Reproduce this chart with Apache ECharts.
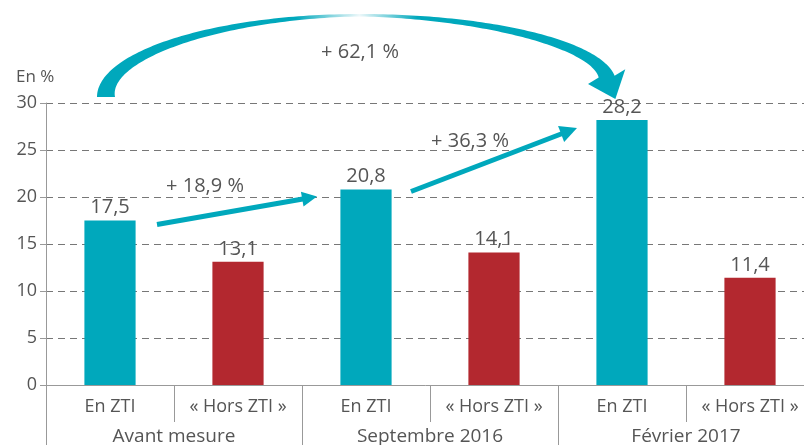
<!DOCTYPE html>
<html>
<head>
<meta charset="utf-8">
<script src="https://cdn.jsdelivr.net/npm/echarts@6/dist/echarts.min.js"></script>
<style>
  html, body { margin: 0; padding: 0; background: #fff; }
  #chart { width: 804px; height: 445px; }
</style>
</head>
<body>
<div id="chart"></div>
<script>
const categories = ['En ZTI', '« Hors ZTI »', 'En ZTI', '« Hors ZTI »', 'En ZTI', '« Hors ZTI »'];
const groups = ['Avant mesure', 'Septembre 2016', 'Février 2017'];
const values = [17.5, 13.1, 20.8, 14.1, 28.2, 11.4];
const yTicks = { min: 0, max: 30, interval: 5 };
const changes = ['+ 18,9 %', '+ 36,3 %', '+ 62,1 %'];

const TEAL = '#00a8bc';
const RED = '#b3282f';
const TEXT = '#555';
const FONT = '"Open Sans", "Noto Sans", sans-serif';

const chart = echarts.init(document.getElementById('chart'));

const fmt = (v) => v.toFixed(1).replace('.', ',');

chart.setOption({
  animation: false,
  backgroundColor: '#fff',
  textStyle: { fontFamily: FONT },
  // plot runs a little past the right edge of the picture
  grid: { left: 46, width: 768, top: 103, bottom: 60, containLabel: false, outerBoundsMode: 'none' },
  xAxis: [
    {
      type: 'category',
      data: categories,
      position: 'bottom',
      axisLine: { lineStyle: { color: '#999', width: 1 } },
      axisTick: { show: true, interval: 0, length: 37, lineStyle: { color: '#999' } },
      axisLabel: { interval: 0, margin: 13, color: TEXT, fontSize: 18, fontFamily: FONT }
    },
    {
      type: 'category',
      data: groups,
      position: 'bottom',
      offset: 0,
      axisLine: { show: false },
      axisTick: { show: true, interval: 0, length: 62, lineStyle: { color: '#999' } },
      axisLabel: { interval: 0, margin: 42, color: TEXT, fontSize: 19, fontFamily: FONT }
    }
  ],
  yAxis: {
    type: 'value',
    min: yTicks.min,
    max: yTicks.max,
    interval: yTicks.interval,
    axisLine: { show: true, lineStyle: { color: '#999' } },
    axisTick: { show: true, length: 6, lineStyle: { color: '#999' } },
    axisLabel: { color: TEXT, fontSize: 18, margin: 9, fontFamily: FONT },
    splitLine: { lineStyle: { color: '#777', type: [7, 5] } }
  },
  series: [
    {
      type: 'bar',
      xAxisIndex: 0,
      barWidth: '40%',
      data: values,
      itemStyle: { color: (p) => (p.dataIndex % 2 ? RED : TEAL) },
      label: {
        show: true,
        position: 'top',
        distance: 3,
        color: TEXT,
        fontSize: 20,
        fontFamily: FONT,
        formatter: (p) => fmt(p.value)
      }
    }
  ]
});

// annotation arrows, placed relative to the bars
const px = (i) => chart.convertToPixel({ xAxisIndex: 0, yAxisIndex: 0 }, [i, values[i]]);
const yTop = chart.convertToPixel({ yAxisIndex: 0 }, yTicks.max);

function straightArrow(x1, y1, x2, y2, lw, headLen, headW) {
  const dx = x2 - x1, dy = y2 - y1;
  const len = Math.hypot(dx, dy);
  const ux = dx / len, uy = dy / len;
  const bx = x2 - ux * headLen, by = y2 - uy * headLen;
  return [
    { type: 'line', shape: { x1, y1, x2: bx + ux * 2, y2: by + uy * 2 }, style: { stroke: TEAL, lineWidth: lw } },
    {
      type: 'polygon',
      shape: { points: [[x2, y2], [bx - uy * headW / 2, by + ux * headW / 2], [bx + uy * headW / 2, by - ux * headW / 2]] },
      style: { fill: TEAL }
    }
  ];
}

function bigArrow(x0, x4) {
  const cx = (x0 + x4) / 2 - 6;
  const top = 14;
  const cyL = yTop - 6, rxL = cx - (x0 - 13), ryL = cyL - top;
  const cyR = 83, rxR = 256, ryR = cyR - top;
  const outer = [], inner = [];
  const steps = 80;
  for (let k = 0; k <= steps; k++) {
    const th = Math.PI - (Math.PI / 2) * (k / steps);
    const w = 2.5 + 15.5 * Math.pow(1 - k / steps, 1.3);
    outer.push([cx + rxL * Math.cos(th), cyL - ryL * Math.sin(th)]);
    inner.push([cx + (rxL - w) * Math.cos(th), cyL - (ryL - w) * Math.sin(th)]);
  }
  const thEnd = 6 * Math.PI / 180;
  for (let k = 1; k <= steps; k++) {
    const th = Math.PI / 2 - (Math.PI / 2 - thEnd) * (k / steps);
    const w = 2.5 + 13.5 * Math.pow(k / steps, 1.2);
    outer.push([cx + rxR * Math.cos(th), cyR - ryR * Math.sin(th)]);
    inner.push([cx + (rxR - w) * Math.cos(th), cyR - (ryR - w) * Math.sin(th)]);
  }
  const o = outer[outer.length - 1], n = inner[inner.length - 1];
  const mx = (o[0] + n[0]) / 2, my = (o[1] + n[1]) / 2;
  let dx = rxR * Math.sin(thEnd), dy = ryR * Math.cos(thEnd);
  const l = Math.hypot(dx, dy); dx /= l; dy /= l;
  const head = [
    [mx + dy * 20, my - dx * 20],
    [mx + dx * 24, my + dy * 24],
    [mx - dy * 20, my + dx * 20]
  ];
  const pts = outer.concat(head, inner.reverse());
  const minX = x0 - 13, maxX = mx + 20;
  const mid = (cx - minX) / (maxX - minX);
  return {
    type: 'polygon',
    shape: { points: pts },
    style: {
      fill: new echarts.graphic.LinearGradient(0, 0, 1, 0, [
        { offset: 0, color: TEAL },
        { offset: mid - 0.12, color: TEAL },
        { offset: mid, color: '#eef8fa' },
        { offset: mid + 0.11, color: TEAL },
        { offset: 1, color: TEAL }
      ])
    }
  };
}

const b0 = px(0), b2 = px(2), b4 = px(4);
const label = (text, x, y) => ({
  type: 'text', x, y,
  style: { text, fill: TEXT, font: '20px ' + FONT, align: 'center', verticalAlign: 'middle' }
});

chart.setOption({
  graphic: [
    bigArrow(b0[0], b4[0]),
    ...straightArrow(b0[0] + 47, b0[1] + 4, b2[0] - 49, b2[1] + 7, 5, 15, 15),
    ...straightArrow(b2[0] + 45, b2[1] + 2, b4[0] - 45, b4[1] + 8, 5, 17, 17),
    label(changes[0], (b0[0] + b2[0]) / 2 - 33, b2[1] - 3),
    label(changes[1], (b2[0] + b4[0]) / 2 - 24, b4[1] + 21),
    label(changes[2], (b0[0] + b4[0]) / 2 - 6, yTop - 51),
    { type: 'text', x: 16, y: 77, style: { text: 'En %', fill: TEXT, font: '17px ' + FONT, align: 'left', verticalAlign: 'middle' } }
  ]
});
</script>
</body>
</html>
